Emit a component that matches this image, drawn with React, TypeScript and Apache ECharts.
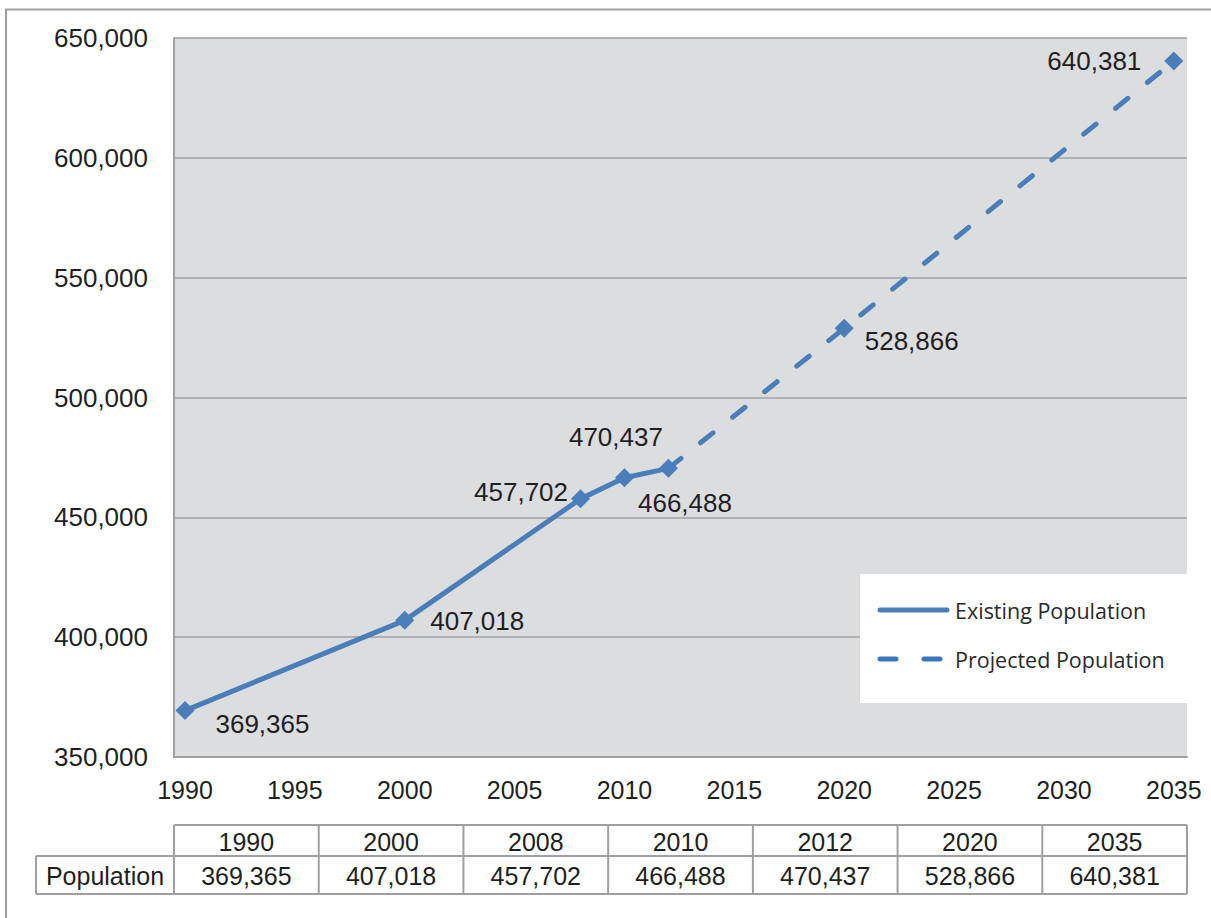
import React, { useEffect, useRef } from "react";
import * as echarts from "echarts";

const existingYears = [1990, 2000, 2008, 2010, 2012];
const existingValues = [369365, 407018, 457702, 466488, 470437];
const projectedYears = [2012, 2020, 2035];
const projectedValues = [470437, 528866, 640381];
const tableYears = [1990, 2000, 2008, 2010, 2012, 2020, 2035];
const tableValues = [369365, 407018, 457702, 466488, 470437, 528866, 640381];
const xTickYears = [1990, 1995, 2000, 2005, 2010, 2015, 2020, 2025, 2030, 2035];
const legendNames = ["Existing Population", "Projected Population"];
const rowLabel = "Population";

const BLUE = "#4a7ebb";
const GRAY = "#a0a0a0";
const TEXT = "#1f1f1f";
const FONT = "'Liberation Sans', Arial, sans-serif";

const fmt = (v: number) => v.toLocaleString("en-US");

// label placement per existing point
const existingLabelCfg = [
  { position: "right", distance: 21, offset: [0, 13] },
  { position: "right", distance: 16, offset: [0, 1] },
  { position: "left", distance: 3, offset: [0, -7] },
  { position: "right", distance: 4, offset: [0, 25] },
  { position: "left", distance: 0, offset: [4, -31] },
];
const projectedLabelCfg = [
  null,
  { position: "right", distance: 11, offset: [0, 13] },
  { position: "left", distance: 23, offset: [0, 0] },
];

export default function App() {
  const ref = useRef<HTMLDivElement>(null);
  useEffect(() => {
    if (!ref.current) return;
    const chart = echarts.init(ref.current, null, { renderer: "svg" });

    const labelBase = { show: true, color: TEXT, fontSize: 26, fontFamily: FONT };

    const existingData = existingYears.map((y, i) => ({
      value: [y, existingValues[i]],
      label: { ...labelBase, ...existingLabelCfg[i], formatter: () => fmt(existingValues[i]) },
    }));
    const projectedData = projectedYears.map((y, i) => {
      const cfg = projectedLabelCfg[i];
      return {
        value: [y, projectedValues[i]],
        symbol: cfg ? "diamond" : "none",
        label: cfg
          ? { ...labelBase, ...cfg, formatter: () => fmt(projectedValues[i]) }
          : { show: false },
      };
    });

    // table graphics
    const gridLeft = 174;
    const gridRight = 1187;
    const colW = (gridRight - gridLeft) / tableYears.length;
    const rowTop = 825;
    const rowMid = 856;
    const rowBot = 894;
    const popLeft = 36;
    const lineStyle = { stroke: GRAY, lineWidth: 2 };
    const tableEls: any[] = [];
    tableEls.push({ type: "line", shape: { x1: gridLeft, y1: rowTop, x2: gridRight, y2: rowTop }, style: lineStyle });
    tableEls.push({ type: "line", shape: { x1: popLeft, y1: rowMid, x2: gridRight, y2: rowMid }, style: lineStyle });
    tableEls.push({ type: "line", shape: { x1: popLeft, y1: rowBot, x2: gridRight, y2: rowBot }, style: lineStyle });
    tableEls.push({ type: "line", shape: { x1: popLeft, y1: rowMid, x2: popLeft, y2: rowBot }, style: lineStyle });
    for (let i = 0; i <= tableYears.length; i++) {
      const x = gridLeft + i * colW;
      tableEls.push({ type: "line", shape: { x1: x, y1: rowTop, x2: x, y2: rowBot }, style: lineStyle });
    }
    tableYears.forEach((y, i) => {
      const cx = gridLeft + (i + 0.5) * colW;
      tableEls.push({
        type: "text",
        x: cx,
        y: (rowTop + rowMid) / 2 + 1,
        style: { text: String(y), fill: TEXT, font: `25px ${FONT}`, align: "center", verticalAlign: "middle" },
      });
      tableEls.push({
        type: "text",
        x: cx,
        y: (rowMid + rowBot) / 2 + 1,
        style: { text: fmt(tableValues[i]), fill: TEXT, font: `25px ${FONT}`, align: "center", verticalAlign: "middle" },
      });
    });
    tableEls.push({
      type: "text",
      x: (popLeft + gridLeft) / 2,
      y: (rowMid + rowBot) / 2 + 1,
      style: { text: rowLabel, fill: TEXT, font: `25px ${FONT}`, align: "center", verticalAlign: "middle" },
    });

    const legendFont = "21.5px 'Open Sans', 'Noto Sans', sans-serif";
    const legendEls: any[] = [
      { type: "rect", shape: { x: 860, y: 574, width: 327, height: 129 }, style: { fill: "#ffffff" }, z: 10 },
      { type: "line", shape: { x1: 880, y1: 610, x2: 947, y2: 610 }, style: { stroke: BLUE, lineWidth: 5, lineCap: "round" }, z: 11 },
      { type: "line", shape: { x1: 880, y1: 659, x2: 947, y2: 659 }, style: { stroke: "#3a78bb", lineWidth: 5, lineCap: "round", lineDash: [16, 28] }, z: 11 },
      { type: "text", x: 955, y: 610, style: { text: legendNames[0], fill: "#2a2a2a", font: legendFont, verticalAlign: "middle" }, z: 11 },
      { type: "text", x: 955, y: 659, style: { text: legendNames[1], fill: "#2a2a2a", font: legendFont, verticalAlign: "middle" }, z: 11 },
    ];

    chart.setOption({
      animation: false,
      backgroundColor: "#ffffff",
      grid: {
        left: gridLeft,
        top: 38,
        right: 1211 - gridRight,
        bottom: 918 - 757,
        show: true,
        backgroundColor: "#dcdddf",
        borderWidth: 0,
        containLabel: false,
        outerBoundsMode: "none",
      },
      xAxis: {
        type: "value",
        min: 1989.5,
        max: 2035.6,
        splitLine: { show: false },
        axisTick: { show: false },
        axisLine: { show: true, lineStyle: { color: GRAY, width: 2 } },
        axisLabel: {
          customValues: xTickYears,
          color: TEXT,
          fontSize: 25,
          fontFamily: FONT,
          margin: 20,
          formatter: (v: number) => String(v),
        },
      },
      yAxis: {
        type: "value",
        min: 350000,
        max: 650000,
        interval: 50000,
        axisLine: { show: true, lineStyle: { color: GRAY, width: 2 } },
        axisTick: { show: false },
        splitLine: { show: true, lineStyle: { color: GRAY, width: 1.5 } },
        axisLabel: {
          color: TEXT,
          fontSize: 26,
          fontFamily: FONT,
          margin: 26,
          formatter: (v: number) => fmt(v),
        },
      },
      series: [
        {
          name: legendNames[0],
          type: "line",
          data: existingData,
          symbol: "diamond",
          symbolSize: 19,
          lineStyle: { color: BLUE, width: 5 },
          itemStyle: { color: BLUE },
          z: 3,
        },
        {
          name: legendNames[1],
          type: "line",
          data: projectedData,
          symbol: "diamond",
          symbolSize: 19,
          lineStyle: { color: BLUE, width: 5, type: [16, 25], cap: "round" },
          itemStyle: { color: BLUE },
          z: 2,
        },
      ],
      graphic: [
        {
          type: "rect",
          shape: { x: 6, y: 9.5, width: 1220, height: 920 },
          style: { fill: "none", stroke: GRAY, lineWidth: 2 },
          silent: true,
        },
        ...tableEls,
        ...legendEls,
      ],
    });
    return () => chart.dispose();
  }, []);
  return (
    <div
      ref={ref}
      style={{ position: "fixed", left: 0, top: 0, width: 1211, height: 918 }}
    />
  );
}
